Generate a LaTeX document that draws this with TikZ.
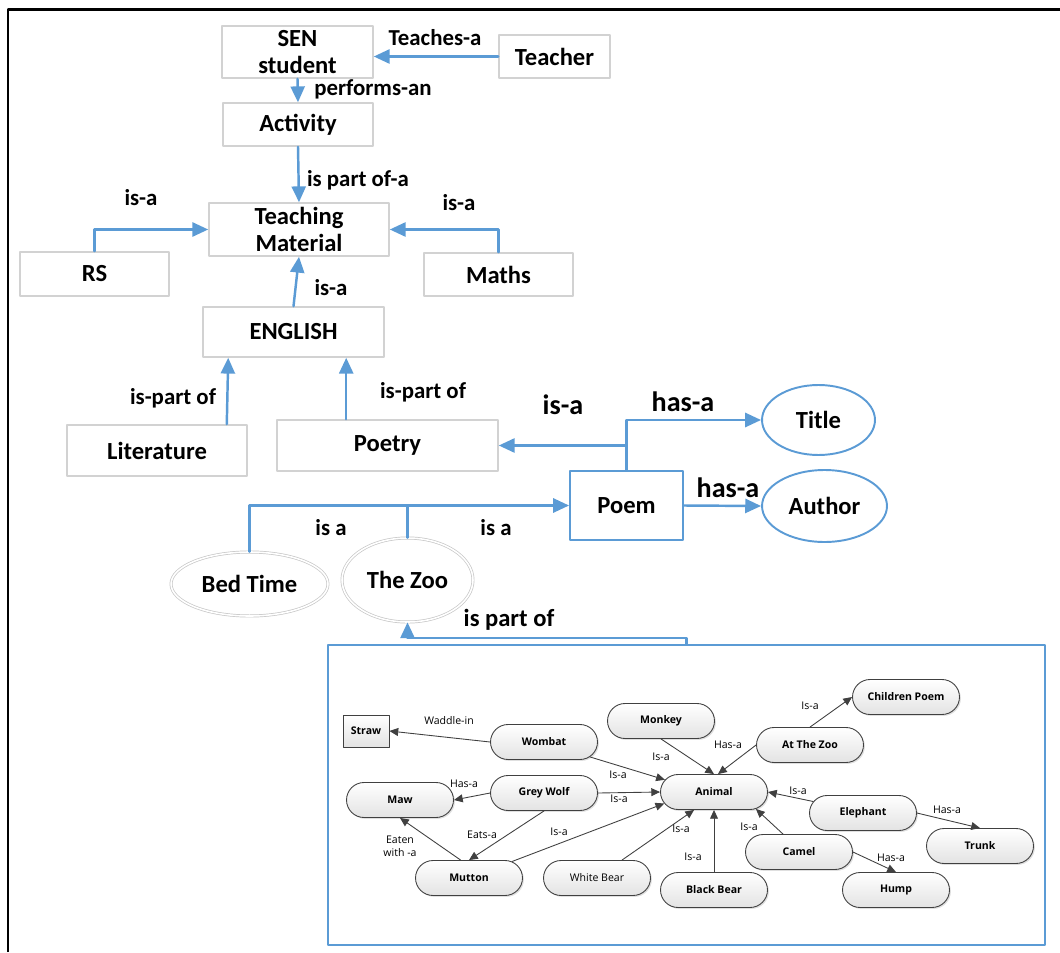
\documentclass[tikz,border=0pt]{standalone}
\usepackage{fontspec}
\setmainfont{Carlito}
\newfontfamily\mapfont{Open Sans}
\usetikzlibrary{arrows.meta,shapes.geometric,shapes.misc,shadows}
\definecolor{lineblue}{HTML}{5B9BD5}
\definecolor{mapgray}{HTML}{404040}
\definecolor{boxgray}{HTML}{D2D2D2}
\begin{document}
\begin{tikzpicture}[x=0.02cm, y=-0.02cm, line join=round, line cap=round,
    font=\fontsize{14}{16}\selectfont\bfseries,
    box/.style={draw=boxgray, line width=0.9pt, inner sep=0pt, align=center},
    blueshape/.style={draw=lineblue, line width=1.1pt, inner sep=0pt},
    twoline/.style={ellipse, draw=gray!45, line width=0.4pt, double=white, double distance=0.9pt, inner sep=0pt},
    bluearrow/.style={draw=lineblue, line width=1.4pt, -{Triangle[length=9pt,width=8pt]}},
    lbl/.style={inner sep=0pt, font=\fontsize{13}{15}\selectfont\bfseries},
    biglbl/.style={inner sep=0pt, font=\fontsize{16}{18}\selectfont\bfseries},
    pill/.style={rounded rectangle, draw=mapgray, line width=0.5pt, top color=white, bottom color=gray!22,
      drop shadow={opacity=0.25, shadow xshift=0.8pt, shadow yshift=-0.8pt},
      minimum width=2.14cm, minimum height=0.7cm, inner sep=0pt, font=\mapfont\fontsize{6}{7}\selectfont\bfseries},
    mapline/.style={draw=mapgray, line width=0.5pt, -{Triangle[length=5pt,width=4.5pt]}},
    maplbl/.style={inner sep=0pt, align=center, font=\mapfont\fontsize{6}{7.5}\selectfont}]
  \useasboundingbox (0,0) rectangle (1060,952);
  \draw[line width=1.7pt, line cap=butt] (8,952) -- (8,10) -- (1060,10);

  \node[box, minimum width=3.02cm, minimum height=1.04cm] (sen) at (297.5,52) {SEN\\[-1pt]student};
  \node[box, minimum width=2.22cm, minimum height=0.86cm] (teacher) at (554.5,56.5) {Teacher};
  \node[box, minimum width=3cm, minimum height=0.86cm] (activity) at (298,124.5) {Activity};
  \node[box, minimum width=3.6cm, minimum height=1.06cm] (material) at (299,229.5) {Teaching\\[-1pt]Material};
  \node[box, minimum width=2.98cm, minimum height=0.88cm] (rs) at (94.5,274) {RS};
  \node[box, minimum width=2.98cm, minimum height=0.86cm] (maths) at (498.5,274.5) {Maths};
  \node[box, minimum width=3.62cm, minimum height=1cm] (english) at (293.5,332) {ENGLISH};
  \node[box, minimum width=3.6cm, minimum height=1.02cm] (literature) at (157,450.5) {Literature};
  \node[box, minimum width=4.42cm, minimum height=1.02cm] (poetry) at (387.5,445.5) {Poetry};
  \node[blueshape, minimum width=2.26cm, minimum height=1.38cm] (poem) at (626.5,505.5) {Poem};
  \node[blueshape, ellipse, minimum width=2.26cm, minimum height=1.4cm] (title) at (818.5,420) {Title};
  \node[blueshape, ellipse, minimum width=2.5cm, minimum height=1.44cm] (author) at (824.5,506) {Author};
  \node[twoline, minimum width=3.14cm, minimum height=1.28cm] (bedtime) at (249.5,584) {Bed Time};
  \node[twoline, minimum width=2.62cm, minimum height=1.68cm] (zoo) at (407.5,580) {The Zoo};
  \node[draw=lineblue, line width=1.1pt, minimum width=14.34cm, minimum height=6cm, inner sep=0pt] (mapframe) at (686.5,795) {};

  \draw[bluearrow] (teacher.west) -- (teacher.west -| sen.east);
  \draw[bluearrow] (sen.south) -- (activity.north);
  \draw[bluearrow] (activity.south) -- (material.north);
  \draw[bluearrow] (rs.north) |- (material.west);
  \draw[bluearrow] (maths.north) |- (material.east);
  \draw[bluearrow] (english.north) -- (material.south);
  \draw[bluearrow] ([xshift=-0.42cm]literature.north east) -- ([xshift=0.52cm]english.south west);
  \draw[bluearrow] ([xshift=1.4cm]poetry.north west) -- ([xshift=1.4cm]poetry.north west |- english.south);
  \draw[bluearrow] (poem.north) |- (poetry.east);
  \draw[bluearrow] (poem.north) |- (title.west);
  \draw[bluearrow] (poem.east) -- (author.west);
  \draw[bluearrow] (bedtime.north) |- (poem.west);
  \draw[draw=lineblue, line width=1.4pt] (zoo.north) -- (zoo.north |- poem.west);
  \draw[bluearrow] (mapframe.north) -- ++(0,-6) -| (zoo.south);

  \node[lbl] (lteach) at (435,38) {Teaches-a};
  \node[lbl] (lperform) at (373,89) {performs-an};
  \node[lbl] (lpartof) at (358,180) {is part of-a};
  \node[lbl] (lrs) at (141,198) {is-a};
  \node[lbl] (lmaths) at (459,203) {is-a};
  \node[lbl] (lenglish) at (331,288) {is-a};
  \node[lbl] (llit) at (173,398) {is-part of};
  \node[lbl] (lpoetry) at (423,392) {is-part of};
  \node[biglbl] (lpoem) at (563,405) {is-a};
  \node[biglbl] (ltitle) at (683,402) {has-a};
  \node[biglbl] (lauthor) at (728,488) {has-a};
  \node[lbl] (lbed) at (331,528) {is a};
  \node[lbl] (lzoo) at (496,528) {is a};
  \node[inner sep=0pt] (lmap) at (509,620) {is part of};

  \node[pill, rectangle, minimum width=0.92cm, minimum height=0.64cm] (straw) at (366,731) {Straw};
  \node[pill] (wombat) at (544,742) {Wombat};
  \node[pill] (greywolf) at (544,793) {Grey Wolf};
  \node[pill] (maw) at (400,800) {Maw};
  \node[pill] (mutton) at (469,878) {Mutton};
  \node[pill, font=\mapfont\fontsize{6}{7}\selectfont] (whitebear) at (597,878) {White Bear};
  \node[pill] (monkey) at (661,721) {Monkey};
  \node[pill] (animal) at (714,792) {Animal};
  \node[pill] (atzoo) at (810,745) {At The Zoo};
  \node[pill] (children) at (906,697) {Children Poem};
  \node[pill] (elephant) at (863,813) {Elephant};
  \node[pill] (trunk) at (980,846) {Trunk};
  \node[pill] (camel) at (799,852) {Camel};
  \node[pill] (hump) at (896,890) {Hump};
  \node[pill] (blackbear) at (714,890) {Black Bear};

  \draw[mapline] (wombat.west) -- (straw.east);
  \draw[mapline] (wombat.-18) -- (animal.166);
  \draw[mapline] (greywolf.west) -- (maw.east);
  \draw[mapline] (greywolf.east) -- (animal.west);
  \draw[mapline] (greywolf.south) -- (mutton.north);
  \draw[mapline] (mutton.115) -- (maw.south);
  \draw[mapline] (mutton.21) -- (animal.193);
  \draw[mapline] ([xshift=0.5cm]whitebear.north) -- (animal.222);
  \draw[mapline] (monkey.south) -- (animal.north);
  \draw[mapline] (atzoo.west) -- ([xshift=0.08cm]animal.north);
  \draw[mapline] (atzoo.north) -- (children.west);
  \draw[mapline] (elephant.167) -- (animal.east);
  \draw[mapline] ([xshift=-0.32cm]camel.north) -- (animal.-22);
  \draw[mapline] (blackbear.north) -- (animal.south);
  \draw[mapline] (elephant.east) -- (trunk.north);
  \draw[mapline] (camel.east) -- (hump.north);

  \node[maplbl] (lwaddle) at (449,721) {Waddle-in};
  \node[maplbl] (lwombat) at (618,775) {Is-a};
  \node[maplbl] (lmaw) at (464,784) {Has-a};
  \node[maplbl] (lwolf) at (619,799) {Is-a};
  \node[maplbl] (leats) at (482,835) {Eats-a};
  \node[maplbl] (leaten) at (400,846) {Eaten\\with -a};
  \node[maplbl] (lmutton) at (559,832) {Is-a};
  \node[maplbl] (lmonkey) at (661,757) {Is-a};
  \node[maplbl] (latzoo) at (728,745) {Has-a};
  \node[maplbl] (lchildren) at (810,706) {Is-a};
  \node[maplbl] (lwhite) at (681,829) {Is-a};
  \node[maplbl] (lblack) at (693,857) {Is-a};
  \node[maplbl] (lcamel) at (749,827) {Is-a};
  \node[maplbl] (lelephant) at (798,791) {Is-a};
  \node[maplbl] (ltrunk) at (947,810) {Has-a};
  \node[maplbl] (lhump) at (891,858) {Has-a};
\end{tikzpicture}
\end{document}
